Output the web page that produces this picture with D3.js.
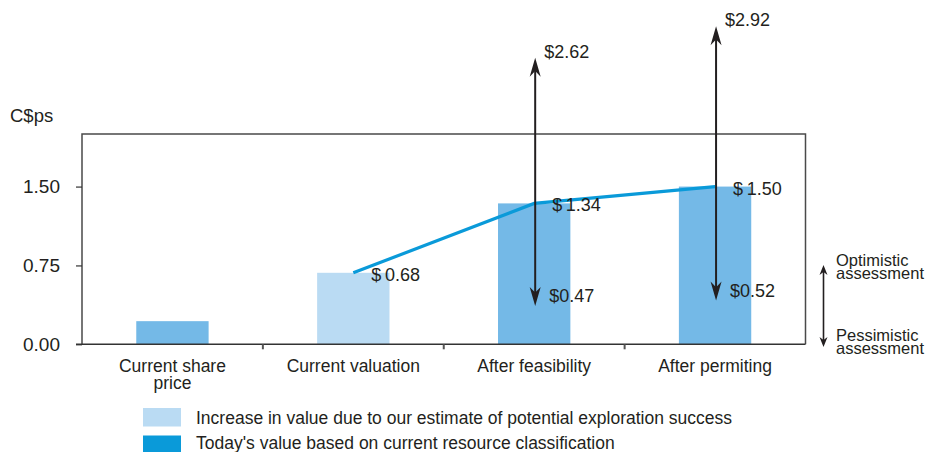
<!DOCTYPE html>
<html><head><meta charset="utf-8">
<script src="https://cdn.jsdelivr.net/npm/d3@7"></script>
<style>body{margin:0;background:#fff;} text{font-family:"Liberation Sans",Arial,sans-serif;fill:#231f20;}</style>
</head><body><svg id="c" width="933" height="452"></svg>
<script>
const categories = ["Current share|price","Current valuation","After feasibility","After permiting"];
const barValues = [0.22, 0.68, 1.34, 1.50];
const barKind = ["today","increase","today","today"];
const lineValues = [null, 0.68, 1.34, 1.50];
const lineLabels = [null, "$0.68", "$1.34", "$1.50"];
const highValues = [null, null, 2.62, 2.92];
const lowValues = [null, null, 0.47, 0.52];
const yTicks = [0, 0.75, 1.5];
const legendItems = ["Increase in value due to our estimate of potential exploration success","Today's value based on current resource classification"];

const svg = d3.select("#c");
const M = {l:82, r:805.5, t:134, b:344.3};
const x = d3.scaleBand().domain(categories).range([M.l, M.r]).paddingInner(0.6).paddingOuter(0.3);
const xb = d3.scaleBand().domain(categories).range([M.l, M.r]);
const y = d3.scaleLinear().domain([0, 2]).range([M.b, M.t]);
const colBar = {today:"#74b9e7", increase:"#badbf3"};
const lineCol = "#0a9ad9";
const ink = "#231f20";

// frame
svg.append("path").attr("d", `M${M.l},${M.b}V${M.t}H${M.r}V${M.b}`).attr("fill","none").attr("stroke","#4a4a4a").attr("stroke-width",1.5);

// bars
svg.selectAll("rect.bar").data(barValues).enter().append("rect")
  .attr("x",(d,i)=>x(categories[i])).attr("width",x.bandwidth())
  .attr("y",d=>y(d)).attr("height",d=>y(0)-y(d)).attr("fill",(d,i)=>colBar[barKind[i]]);

// y axis
const ya = svg.append("g").attr("transform",`translate(${M.l},0)`)
  .call(d3.axisLeft(y).tickValues(yTicks).tickFormat(d3.format(".2f")).tickSize(6).tickPadding(16));
ya.select(".domain").remove();
ya.selectAll("line").attr("stroke","#333").attr("stroke-width",1.2);
ya.selectAll("text").style("font-size","19px").attr("fill",ink).style("font-family","Liberation Sans, Arial");

// x axis line + ticks at boundaries
svg.append("line").attr("x1",M.l-6).attr("x2",M.r).attr("y1",M.b).attr("y2",M.b).attr("stroke","#333").attr("stroke-width",1.5);
const bounds = categories.slice(1).map(c=>xb(c));
svg.selectAll("line.xt").data(bounds).enter().append("line")
  .attr("x1",d=>d).attr("x2",d=>d).attr("y1",M.b).attr("y2",M.b+5).attr("stroke","#555").attr("stroke-width",2);

// category labels
categories.forEach((c,i)=>{
  const cxm = xb(c)+xb.bandwidth()/2;
  const t = svg.append("text").attr("x",cxm).attr("y",371.5).attr("text-anchor","middle").style("font-size","17.5px");
  c.split("|").forEach((s,k)=>t.append("tspan").attr("x",cxm).attr("dy",k?17:0).text(s));
});

// y title
svg.append("text").attr("x",10).attr("y",122).text("C$ps").style("font-size","18.5px");

// line
const cx = i => x(categories[i]) + x.bandwidth()/2;
const pts = lineValues.map((v,i)=>v==null?null:[cx(i), y(v)]).filter(p=>p);
svg.append("path").attr("d", d3.line()(pts)).attr("fill","none").attr("stroke",lineCol).attr("stroke-width",3.2);

// arrowhead helper: tip at (X,Y), dir -1 = up, +1 = down
function head(X, Y, dir, w, h){
  const p = d3.path();
  p.moveTo(X, Y);
  p.lineTo(X + w/2, Y - dir*h);
  p.lineTo(X, Y - dir*h*0.7);
  p.lineTo(X - w/2, Y - dir*h);
  p.closePath();
  svg.append("path").attr("d", p.toString()).attr("fill", ink);
}

highValues.forEach((h,i)=>{
  if(h==null) return;
  const X = cx(i)+1;
  const top = y(h)-11, bot = y(lowValues[i])+11;
  svg.append("line").attr("x1",X).attr("x2",X).attr("y1",bot-8).attr("y2",top+8)
    .attr("stroke",ink).attr("stroke-width",2);
  head(X, top, -1, 11, 19);
  head(X, bot, 1, 11, 19);
  svg.append("text").attr("x",X+9).attr("y",y(h)-11).text("$"+h.toFixed(2)).style("font-size","18px");
  svg.append("text").attr("x",X+14).attr("y",y(lowValues[i])+7).text("$"+lowValues[i].toFixed(2)).style("font-size","18px");
});

// line labels
lineValues.forEach((v,i)=>{
  if(v==null) return;
  svg.append("text").attr("x",cx(i)+18).attr("y",y(v)+8).text(lineLabels[i].replace("$","$\u2009")).style("font-size","18px");
});

// right annotation
const ax = 823.5;
svg.append("line").attr("x1",ax).attr("x2",ax).attr("y1",270).attr("y2",342)
  .attr("stroke",ink).attr("stroke-width",1.6);
head(ax, 265, -1, 8, 10);
head(ax, 347, 1, 8, 10);
[["Optimistic",266],["assessment",278.5],["Pessimistic",341],["assessment",353.5]].forEach(([s,yy])=>{
  svg.append("text").attr("x",836).attr("y",yy).text(s).style("font-size","16.5px");
});

// legend
const lc = [colBar.increase, lineCol];
legendItems.forEach((s,i)=>{
  svg.append("rect").attr("x",143).attr("y",408+i*27.5).attr("width",38).attr("height",18.5).attr("fill",lc[i]);
  svg.append("text").attr("x",196).attr("y",423.5+i*25.5).text(s).style("font-size","17.5px");
});
</script></body></html>
